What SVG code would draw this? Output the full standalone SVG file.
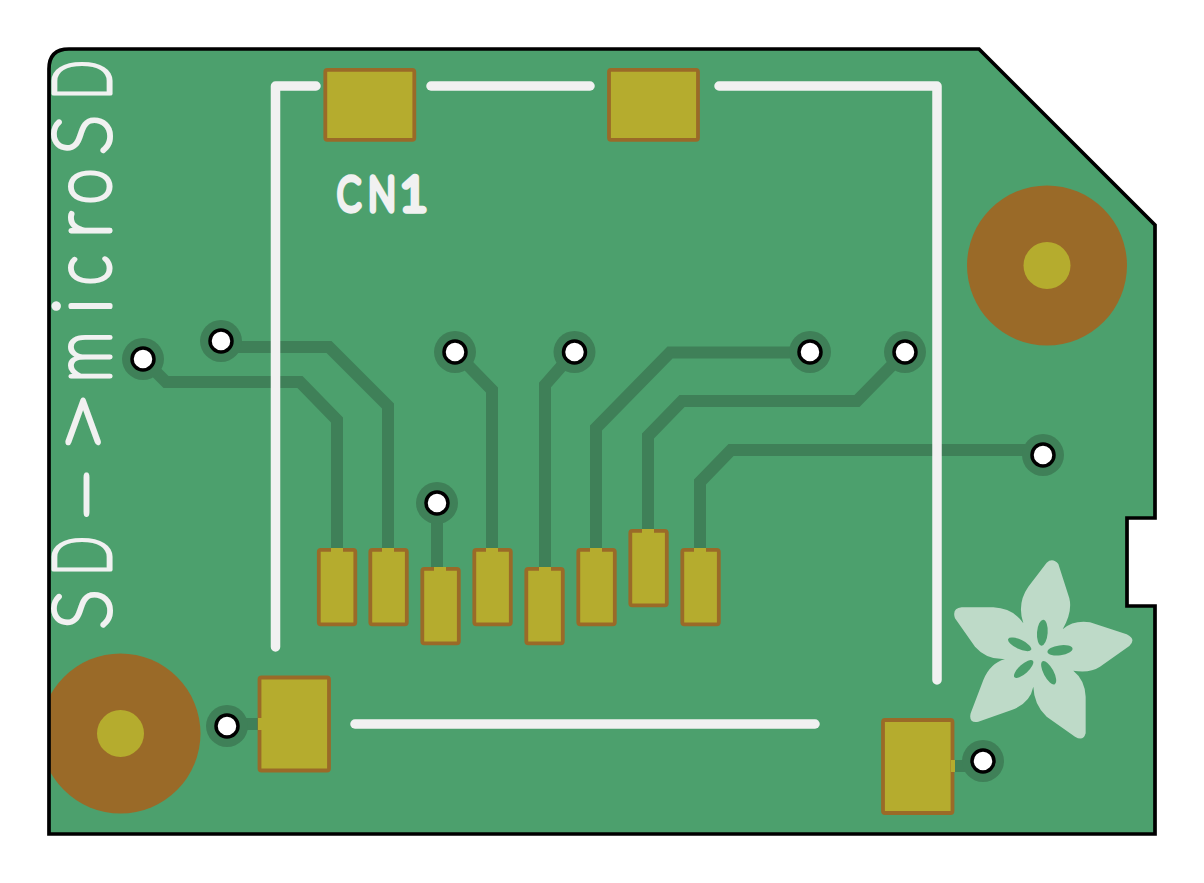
<svg xmlns="http://www.w3.org/2000/svg" width="1204" height="883" viewBox="0 0 1204 883">
<style>
.trk{fill:none;stroke:#3f8058;stroke-width:12;stroke-linejoin:miter}
.pad{fill:#b5ac2e;stroke:#9a6a28;stroke-width:3.8;stroke-linejoin:round}
.gap{fill:#b5ac2e}
.ann{fill:#3f8058}
.hole{fill:#fff;stroke:#000;stroke-width:3.5}
.silk{fill:none;stroke:#f1f1f1;stroke-width:9.5;stroke-linecap:round;stroke-linejoin:round}
.mount{fill:#9a6a28}
.drill{fill:#b5ac2e}
.txt{fill:#f1f1f1;stroke:#f1f1f1;stroke-linejoin:round;stroke-linecap:round;font-family:Lato,'Liberation Sans',sans-serif;font-weight:100}
</style>
<defs>
<clipPath id="board"><path d="M69,49H979L1155,225V518H1127V606H1155V834H49V69Q49,49 69,49Z"/></clipPath>
</defs>
<path id="pcb-fill" d="M69,49H979L1155,225V518H1127V606H1155V834H49V69Q49,49 69,49Z" fill="#4ca06d"/>
<g id="mount-holes" clip-path="url(#board)">
<g id="mount-1"><circle class="mount" cx="120.500" cy="733.500" r="80"/><circle class="drill" cx="120.500" cy="733.500" r="23.5"/></g>
<g id="mount-2"><circle class="mount" cx="1047" cy="265.500" r="80"/><circle class="drill" cx="1047" cy="265.500" r="23.5"/></g>
</g>
<g id="connectors">
<path class="trk" d="M143,359L166,382H300L337,420V552"/>
<path class="trk" d="M221,347H329L388,406V552"/>
<path class="trk" d="M437,503V571"/>
<path class="trk" d="M455,352L492,390V552"/>
<path class="trk" d="M574,352L545,385V571"/>
<path class="trk" d="M810,352.500H670L596,428V552"/>
<path class="trk" d="M905,352L857,401H682L648,436V533"/>
<path class="trk" d="M1043,450H731L700,482V552"/>
<path class="trk" d="M227,724H261"/>
<path class="trk" d="M983,766H951"/>
</g>
<g id="silk-outline">
<path class="silk" d="M275.500,647V86H316"/>
<path class="silk" d="M431,86H590"/>
<path class="silk" d="M719,86H937V680"/>
<path class="silk" d="M355,724H815"/>
</g>
<g id="pads">
<g id="pad-a"><rect class="pad" x="325.300" y="69.800" width="89" height="70" rx="2"/></g>
<g id="pad-b"><rect class="pad" x="609" y="69.800" width="89" height="70" rx="2"/></g>
<g id="pad-1"><rect class="pad" x="318.800" y="549.800" width="36.500" height="74.500" rx="2"/><rect class="gap" x="331" y="548" width="12" height="4"/></g>
<g id="pad-2"><rect class="pad" x="370.300" y="549.800" width="36.500" height="74.500" rx="2"/><rect class="gap" x="382" y="548" width="12" height="4"/></g>
<g id="pad-3"><rect class="pad" x="422.300" y="568.800" width="36.500" height="74.500" rx="2"/><rect class="gap" x="434" y="567" width="12" height="4"/></g>
<g id="pad-4"><rect class="pad" x="474.300" y="549.800" width="36.500" height="74.500" rx="2"/><rect class="gap" x="486" y="548" width="12" height="4"/></g>
<g id="pad-5"><rect class="pad" x="526.300" y="568.800" width="36.500" height="74.500" rx="2"/><rect class="gap" x="539" y="567" width="12" height="4"/></g>
<g id="pad-6"><rect class="pad" x="578.300" y="549.800" width="36.500" height="74.500" rx="2"/><rect class="gap" x="590" y="548" width="12" height="4"/></g>
<g id="pad-7"><rect class="pad" x="630.300" y="530.800" width="36.500" height="74.500" rx="2"/><rect class="gap" x="642" y="529" width="12" height="4"/></g>
<g id="pad-8"><rect class="pad" x="682.300" y="549.800" width="36.500" height="74.500" rx="2"/><rect class="gap" x="694" y="548" width="12" height="4"/></g>
<g id="pad-c"><rect class="pad" x="259.500" y="677.500" width="69.500" height="93" rx="2"/><rect class="gap" x="258" y="718" width="4" height="12"/></g>
<g id="pad-d"><rect class="pad" x="883" y="720" width="69.500" height="93" rx="2"/><rect class="gap" x="951" y="760" width="4" height="12"/></g>
</g>
<g id="vias">
<g id="via-1"><circle class="ann" cx="143" cy="359" r="21"/><circle class="hole" cx="143" cy="359" r="11"/></g>
<g id="via-2"><circle class="ann" cx="221" cy="341" r="21"/><circle class="hole" cx="221" cy="341" r="11"/></g>
<g id="via-3"><circle class="ann" cx="455" cy="352" r="21"/><circle class="hole" cx="455" cy="352" r="11"/></g>
<g id="via-4"><circle class="ann" cx="574.500" cy="352" r="21"/><circle class="hole" cx="574.500" cy="352" r="11"/></g>
<g id="via-5"><circle class="ann" cx="810" cy="352" r="21"/><circle class="hole" cx="810" cy="352" r="11"/></g>
<g id="via-6"><circle class="ann" cx="905" cy="352" r="21"/><circle class="hole" cx="905" cy="352" r="11"/></g>
<g id="via-7"><circle class="ann" cx="1043" cy="455" r="21"/><circle class="hole" cx="1043" cy="455" r="11"/></g>
<g id="via-8"><circle class="ann" cx="437" cy="503" r="21"/><circle class="hole" cx="437" cy="503" r="11"/></g>
<g id="via-9"><circle class="ann" cx="227" cy="726" r="21"/><circle class="hole" cx="227" cy="726" r="11"/></g>
<g id="via-10"><circle class="ann" cx="983" cy="761" r="21"/><circle class="hole" cx="983" cy="761" r="11"/></g>
</g>
<g id="logo" transform="translate(940,540) scale(.33333)">
<path fill="#bedac8" d="M320,68Q338,52 355,72L388,175Q398,215 368,268Q400,240 450,247L560,283Q590,297 568,318L480,380Q450,400 400,392Q435,420 437,470V580Q430,605 405,590L320,530Q282,495 280,440Q270,490 215,510L115,545Q85,550 92,520L130,420Q150,370 195,357Q140,360 105,320L45,235Q35,205 65,202H160Q220,205 250,250Q230,190 265,140Z"/>
<g fill="#4ca06d">
<ellipse cx="307" cy="278" rx="16" ry="39" transform="rotate(4 307 278)"/>
<ellipse cx="239" cy="313" rx="38" ry="14" transform="rotate(25 239 313)"/>
<ellipse cx="360" cy="331" rx="38" ry="15" transform="rotate(-8 360 331)"/>
<ellipse cx="251" cy="387" rx="37" ry="14" transform="rotate(-42 251 387)"/>
<ellipse cx="326" cy="398" rx="39" ry="15" transform="rotate(62 326 398)"/>
</g>
</g>
<g id="labels">
<text id="cn1" class="txt" y="209.500" font-size="45" stroke-width="7.500"><tspan x="337.500" textLength="23" lengthAdjust="spacingAndGlyphs">C</tspan><tspan x="368.500" textLength="27" lengthAdjust="spacingAndGlyphs">N</tspan><tspan x="400" textLength="27" lengthAdjust="spacingAndGlyphs">1</tspan></text>
<text id="title" class="txt" transform="translate(109.500,630) rotate(-90)" y="0" font-size="80" stroke-width="5"><tspan x="0.500" textLength="40" lengthAdjust="spacingAndGlyphs">S</tspan><tspan x="54" textLength="40" lengthAdjust="spacingAndGlyphs">D</tspan><tspan x="106.300" textLength="58" lengthAdjust="spacingAndGlyphs">-</tspan><tspan x="174.500" textLength="65" lengthAdjust="spacingAndGlyphs">&gt;</tspan><tspan x="247.500" textLength="51" lengthAdjust="spacingAndGlyphs">m</tspan><tspan x="315.500" textLength="17" lengthAdjust="spacingAndGlyphs">i</tspan><tspan x="344.500" textLength="30" lengthAdjust="spacingAndGlyphs">c</tspan><tspan x="392" textLength="26" lengthAdjust="spacingAndGlyphs">r</tspan><tspan x="425.500" textLength="36" lengthAdjust="spacingAndGlyphs">o</tspan><tspan x="475" textLength="40" lengthAdjust="spacingAndGlyphs">S</tspan><tspan x="530" textLength="40" lengthAdjust="spacingAndGlyphs">D</tspan></text>
</g>
<path id="pcb-edge" d="M69,49H979L1155,225V518H1127V606H1155V834H49V69Q49,49 69,49Z" fill="none" stroke="#000" stroke-width="3.700"/>
</svg>
